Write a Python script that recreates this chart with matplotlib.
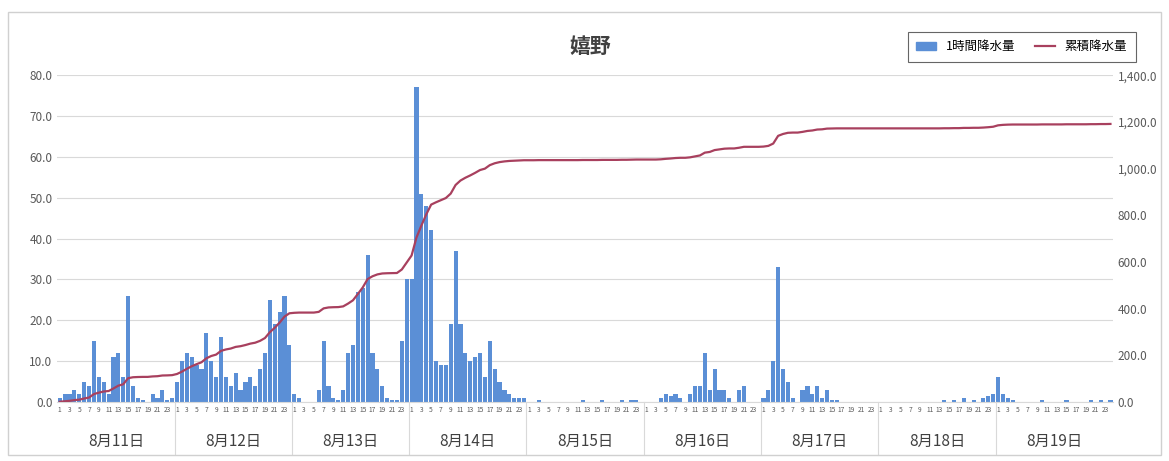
import numpy as np
import matplotlib.pyplot as plt
from matplotlib.patches import Rectangle, Patch
from matplotlib.lines import Line2D

plt.rcParams['font.family'] = ['Noto Sans CJK JP', 'DejaVu Sans']

# hourly rainfall (mm), hours 1..24 for each day
dates = ['8月11日', '8月12日', '8月13日', '8月14日', '8月15日',
         '8月16日', '8月17日', '8月18日', '8月19日']
aug11 = [1, 2, 2, 3, 2, 5, 4, 15, 6, 5, 2, 11, 12, 6, 26, 4, 1, 0.5, 0, 2, 1, 3, 0.5, 1]
aug12 = [5, 10, 12, 11, 9, 8, 17, 10, 6, 16, 6, 4, 7, 3, 5, 6, 4, 8, 12, 25, 19, 22, 26, 14]
aug13 = [2, 1, 0, 0, 0, 3, 15, 4, 1, 0.5, 3, 12, 14, 27, 28, 36, 12, 8, 4, 1, 0.5, 0.5, 15, 30]
aug14 = [30, 77, 51, 48, 42, 10, 9, 9, 19, 37, 19, 12, 10, 11, 12, 6, 15, 8, 5, 3, 2, 1, 1, 1]
aug15 = [0, 0, 0.5, 0, 0, 0, 0, 0, 0, 0, 0, 0.5, 0, 0, 0, 0.5, 0, 0, 0, 0.5, 0, 0.5, 0.5, 0]
aug16 = [0, 0, 0, 1, 2, 1.5, 2, 1, 0, 2, 4, 4, 12, 3, 8, 3, 3, 1, 0, 3, 4, 0, 0, 0]
aug17 = [1, 3, 10, 33, 8, 5, 1, 0, 3, 4, 2, 4, 1, 3, 0.5, 0.5, 0, 0, 0, 0, 0, 0, 0, 0]
aug18 = [0, 0, 0, 0, 0, 0, 0, 0, 0, 0, 0, 0, 0, 0.5, 0, 0.5, 0, 1, 0, 0.5, 0, 1, 1.5, 2]
aug19 = [6, 2, 1, 0.5, 0, 0, 0, 0, 0, 0.5, 0, 0, 0, 0, 0.5, 0, 0, 0, 0, 0.5, 0, 0.5, 0, 0.5]
hours = list(range(1, 25))

rain = np.array(aug11 + aug12 + aug13 + aug14 + aug15 + aug16 + aug17 + aug18 + aug19)
cum = np.cumsum(rain)
idx = np.arange(len(rain))

fig = plt.figure(figsize=(11.69, 4.61), dpi=100)
ax = fig.add_axes([0.049, 0.128, 0.903, 0.709])
ax2 = ax.twinx()

ax.bar(idx, rain, width=0.85, color='#5b8fd6', zorder=2)
ax2.plot(idx, cum, color='#a8405e', lw=1.6, zorder=3)

ax.set_xlim(-0.5, len(rain) - 0.5)
ax.set_ylim(0, 80)
ax.set_yticks(np.arange(0, 81, 10))
ax.set_yticklabels(['{:.1f}'.format(v) for v in np.arange(0, 81, 10)])
ax2.set_ylim(0, 1400)
ax2.set_yticks(np.arange(0, 1401, 200))
ax2.set_yticklabels(['{:,.1f}'.format(v) for v in np.arange(0, 1401, 200)])
ax.grid(axis='y', color='#d9d9d9', lw=0.8, zorder=0)
ax.set_axisbelow(True)

for a in (ax, ax2):
    for s in a.spines.values():
        s.set_visible(False)
    a.tick_params(length=0, labelsize=8.5, colors='#595959')
ax.spines['bottom'].set_visible(True)
ax.spines['bottom'].set_color('#d9d9d9')

# hour labels every 2 hours
tick_pos = [d * 24 + h - 1 for d in range(len(dates)) for h in hours if h % 2 == 1]
tick_lab = [str(h) for d in range(len(dates)) for h in hours if h % 2 == 1]
ax.set_xticks(tick_pos)
ax.set_xticklabels(tick_lab, fontsize=4.8, color='#595959')
ax.tick_params(axis='x', pad=3)

trans = ax.get_xaxis_transform()
for d, lab in enumerate(dates):
    ax.text(d * 24 + 11.5, -0.12, lab, transform=trans, ha='center', va='center',
            fontsize=11, color='#404040')
    if d > 0:
        ax.plot([d * 24 - 0.5] * 2, [0, -0.16], transform=trans, color='#d9d9d9',
                lw=0.8, clip_on=False)

fig.text(0.505, 0.9, '嬉野', ha='center', va='center', fontsize=15,
         fontweight='bold', color='#404040')

handles = [Patch(color='#5b8fd6'), Line2D([], [], color='#a8405e', lw=1.6)]
leg = fig.legend(handles, ['1時間降水量', '累積降水量'], loc='upper right',
                 bbox_to_anchor=(0.977, 0.945), ncol=2, fontsize=9, frameon=True,
                 fancybox=False, edgecolor='#404040', handlelength=1.6,
                 columnspacing=1.5, borderpad=0.7)
leg.get_frame().set_linewidth(0.8)

fig.patches.append(Rectangle((0.007, 0.012), 0.986, 0.962, transform=fig.transFigure,
                             fill=False, edgecolor='#d0d0d0', lw=1))

fig.savefig('out.png', dpi=100)
